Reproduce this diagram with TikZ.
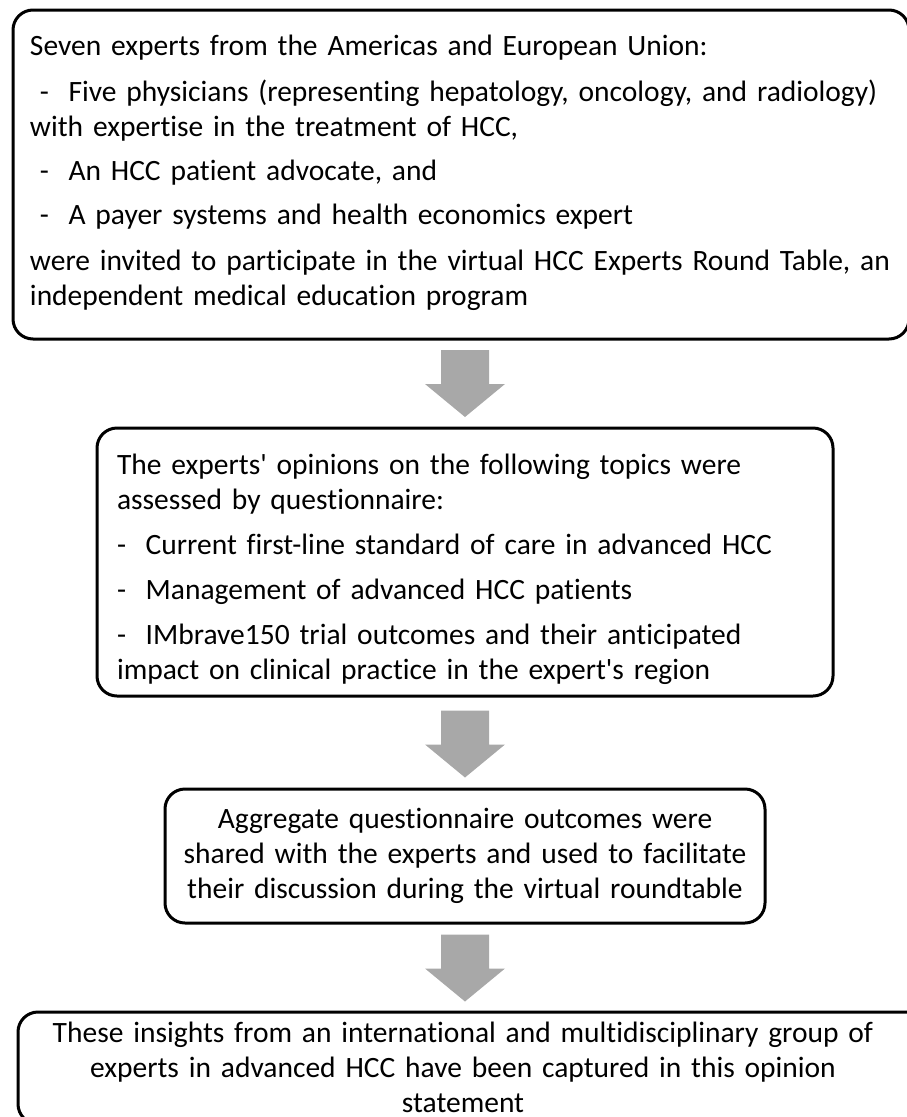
\documentclass[tikz,border=0pt]{standalone}
\usepackage{fontspec}
\setmainfont{Carlito}[Ligatures={NoCommon,NoContextual}]
\usetikzlibrary{calc}
\definecolor{arrowgray}{RGB}{168,168,168}
\begin{document}
\begin{tikzpicture}[x=1pt,y=-1pt,
  box/.style={draw=black,line width=3pt,rounded corners=20pt,rectangle,inner ysep=0pt,font=\fontsize{29.5}{35}\selectfont},
  boxtext/.style={inner sep=0pt,font=\fontsize{29.5}{35}\selectfont},
  blockarrow/.style={fill=arrowgray,draw=none}]
\useasboundingbox (0,0) rectangle (906,1117);
\node[box,minimum width=896pt,minimum height=329pt] (b1) at (461,174.5) {};
\node[boxtext,text width=880pt,align=left] (t1) at (470,173)
 {Seven experts from the Americas and European Union:\\[11pt]
 \ -\ \ Five physicians (representing hepatology, oncology, and radiology)\\
 with expertise in the treatment of HCC,\\[9pt]
 \ -\ \ An HCC patient advocate, and\\[9pt]
 \ -\ \ A payer systems and health economics expert\\[11pt]
 were invited to participate in the virtual HCC Experts Round Table, an\\
 independent medical education program};
\node[box,minimum width=736pt,minimum height=268pt] (b2) at (465,562) {};
\node[boxtext,text width=700pt,align=left] (t2) at (467,569.5)
 {The experts\textquotesingle{} opinions on the following topics were\\
 assessed by questionnaire:\\[10pt]
 -\ \ Current first-line standard of care in advanced HCC\\[10pt]
 -\ \ Management of advanced HCC patients\\[10pt]
 -\ \ IMbrave150 trial outcomes and their anticipated\\
 impact on clinical practice in the expert\textquotesingle{}s region};
\node[box,minimum width=600pt,minimum height=134pt,inner xsep=10pt,text width=580pt,align=center] (b3) at (465,856)
 {Aggregate questionnaire outcomes were\\
 shared with the experts and used to facilitate\\
 their discussion during the virtual roundtable};
\node[box,minimum width=912pt,minimum height=112pt] (b4) at (474,1068) {};
\node[boxtext,text width=870pt,align=center] (t4) at (463,1067)
 {These insights from an international and multidisciplinary group of\\
 experts in advanced HCC have been captured in this opinion\\
 statement};
\coordinate (m1) at (465,383.5);
\coordinate (m2) at (465,744);
\coordinate (m3) at (465,968);
\foreach \m in {m1,m2,m3}{
  \fill[blockarrow] ($(\m)+(-24,-33.5)$) -- ($(\m)+(24,-33.5)$) -- ($(\m)+(24,0.5)$) -- ($(\m)+(40,0.5)$)
    -- ($(\m)+(0,33.5)$) -- ($(\m)+(-40,0.5)$) -- ($(\m)+(-24,0.5)$) -- cycle;
}
\end{tikzpicture}
\end{document}
